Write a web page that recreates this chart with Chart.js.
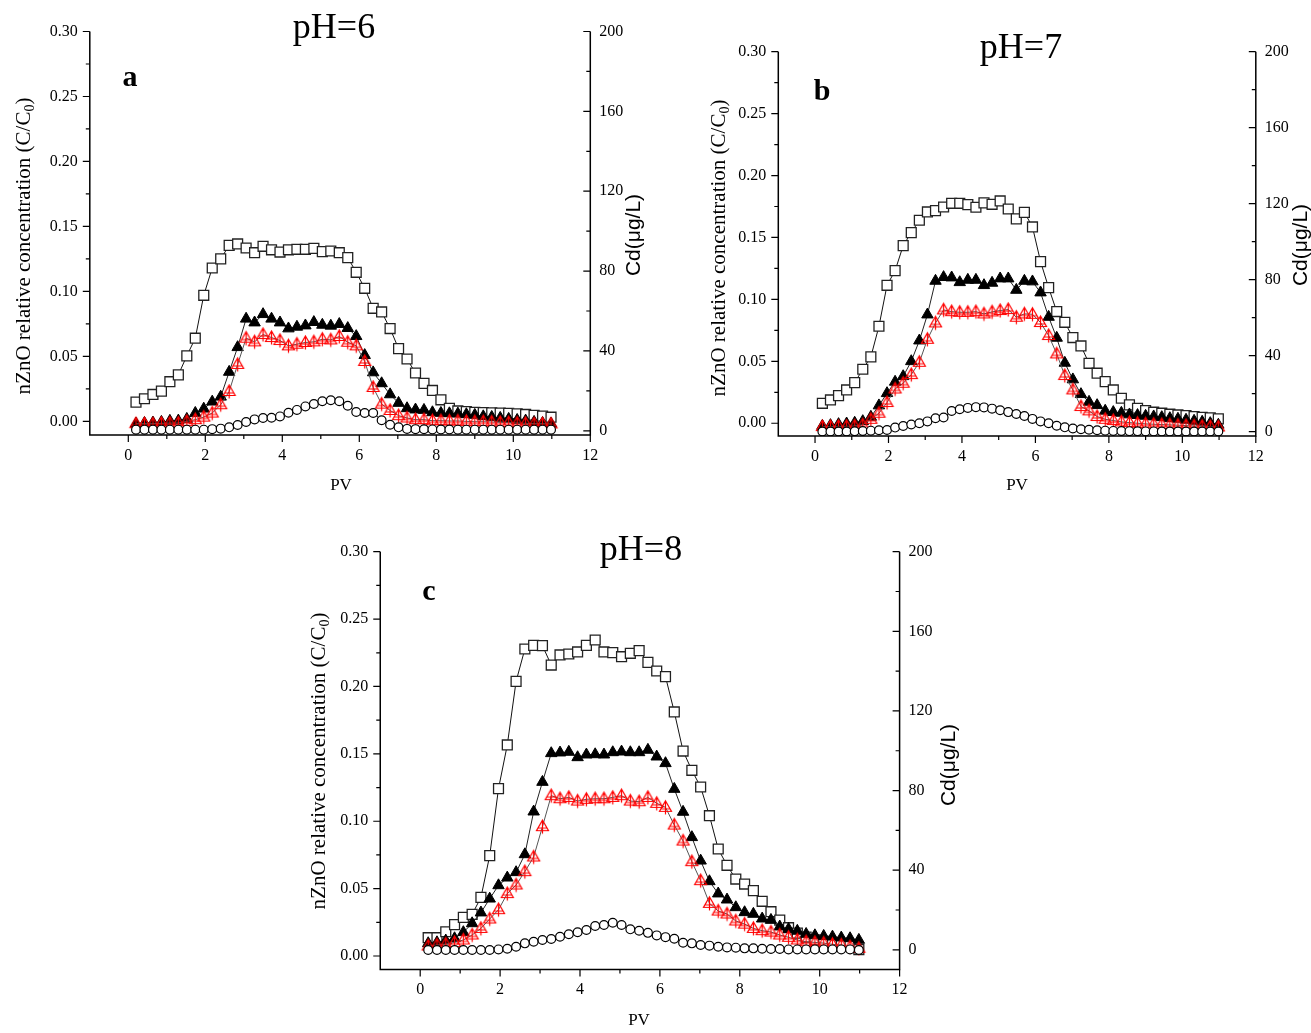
<!DOCTYPE html>
<html>
<head>
<meta charset="utf-8">
<script src="https://cdn.jsdelivr.net/npm/chart.js@4.4.0/dist/chart.umd.min.js"></script>
<style>
  body { margin: 0; background: #fff; }
  #page { position: relative; width: 1311px; height: 1033px; overflow: hidden; background: #fff; }
  canvas { position: absolute; }
</style>
</head>
<body>
<div id="page">
  <canvas id="chartA" width="660" height="500" style="left:0px;top:0px"></canvas>
  <canvas id="chartB" width="651" height="500" style="left:660px;top:0px"></canvas>
  <canvas id="chartC" width="700" height="513" style="left:300px;top:520px"></canvas>
</div>
<script>
// PV values of the samples (same for all three columns)
var pv = [0.20,0.42,0.64,0.86,1.08,1.30,1.52,1.74,1.96,2.18,2.40,2.62,2.84,3.06,3.28,3.50,3.72,3.94,4.16,4.38,
  4.60,4.82,5.04,5.26,5.48,5.70,5.92,6.14,6.36,6.58,6.80,7.02,7.24,7.46,7.68,7.90,8.12,8.34,8.56,8.78,
  9.00,9.22,9.44,9.66,9.88,10.10,10.32,10.54,10.76,10.98]

// tick labels
var leftTicks = [0, 0.05, 0.10, 0.15, 0.20, 0.25, 0.30]
var rightTicks = [0, 40, 80, 120, 160, 200]
var pvTicks = [0, 2, 4, 6, 8, 10, 12]

// pH=6
var squaresA = [0.0148,0.0174,0.0207,0.0233,0.0305,0.0358,0.0504,0.0640,0.0970,0.1180,
  0.1250,0.1354,0.1365,0.1334,0.1298,0.1347,0.1320,0.1303,0.1320,0.1324,
  0.1324,0.1331,0.1306,0.1311,0.1298,0.1260,0.1147,0.1024,0.0870,0.0842,
  0.0714,0.0560,0.0480,0.0372,0.0292,0.0238,0.0166,0.0100,0.0080,0.0075,
  0.0070,0.0068,0.0065,0.0063,0.0062,0.0058,0.0053,0.0047,0.0040,0.0032]
var filledA = [-0.0018,-0.0013,-0.0010,-0.0005,0.0003,0.0005,0.0018,0.0064,0.0097,0.0151,
  0.0189,0.0380,0.0570,0.0789,0.0760,0.0824,0.0789,0.0760,0.0714,0.0727,
  0.0737,0.0763,0.0742,0.0735,0.0748,0.0717,0.0655,0.0509,0.0376,0.0292,
  0.0207,0.0141,0.0100,0.0090,0.0087,0.0069,0.0064,0.0061,0.0059,0.0054,
  0.0049,0.0038,0.0033,0.0026,0.0018,0.0010,0.0005,-0.0005,-0.0013,-0.0018]
var redA = [-0.0018,-0.0018,-0.0018,-0.0015,-0.0013,-0.0013,0.0000,0.0013,0.0033,0.0064,
  0.0128,0.0230,0.0438,0.0640,0.0612,0.0668,0.0645,0.0622,0.0581,0.0594,
  0.0607,0.0612,0.0632,0.0627,0.0653,0.0609,0.0581,0.0461,0.0261,0.0133,
  0.0084,0.0044,0.0026,0.0013,0.0013,0.0005,0.0005,0.0003,0.0003,0.0000,
  -0.0003,-0.0003,-0.0005,-0.0008,-0.0010,-0.0013,-0.0015,-0.0018,-0.0018,-0.0020]
var circlesA = [-0.0064,-0.0064,-0.0064,-0.0064,-0.0064,-0.0064,-0.0064,-0.0064,-0.0064,-0.0060,
  -0.0056,-0.0046,-0.0028,-0.0005,0.0015,0.0026,0.0028,0.0038,0.0066,0.0088,
  0.0115,0.0134,0.0155,0.0162,0.0155,0.0120,0.0072,0.0064,0.0064,0.0008,
  -0.0026,-0.0046,-0.0058,-0.0060,-0.0061,-0.0062,-0.0063,-0.0063,-0.0064,-0.0064,
  -0.0064,-0.0064,-0.0064,-0.0064,-0.0064,-0.0064,-0.0064,-0.0064,-0.0064,-0.0064]

// pH=7
var squaresB = [0.0161,0.0188,0.0223,0.0269,0.0328,0.0436,0.0536,0.0783,0.1114,0.1232,
  0.1434,0.1539,0.1639,0.1706,0.1717,0.1746,0.1776,0.1776,0.1765,0.1744,
  0.1779,0.1768,0.1795,0.1730,0.1650,0.1703,0.1585,0.1305,0.1095,0.0902,
  0.0815,0.0692,0.0624,0.0484,0.0404,0.0336,0.0269,0.0202,0.0148,0.0121,
  0.0102,0.0089,0.0081,0.0073,0.0067,0.0062,0.0054,0.0048,0.0043,0.0035]
var filledB = [-0.0022,-0.0016,-0.0008,-0.0003,0.0003,0.0016,0.0051,0.0143,0.0242,0.0334,
  0.0379,0.0500,0.0667,0.0877,0.1149,0.1179,0.1176,0.1138,0.1157,0.1157,
  0.1114,0.1133,0.1168,0.1168,0.1076,0.1149,0.1144,0.1055,0.0858,0.0689,
  0.0487,0.0353,0.0234,0.0172,0.0145,0.0100,0.0089,0.0083,0.0070,0.0065,
  0.0059,0.0054,0.0048,0.0040,0.0035,0.0027,0.0019,0.0011,0.0000,-0.0013]
var redB = [-0.0027,-0.0027,-0.0025,-0.0025,-0.0022,-0.0013,0.0032,0.0081,0.0167,0.0277,
  0.0323,0.0393,0.0492,0.0678,0.0810,0.0915,0.0901,0.0896,0.0896,0.0901,
  0.0883,0.0899,0.0910,0.0918,0.0856,0.0883,0.0880,0.0813,0.0708,0.0560,
  0.0385,0.0269,0.0135,0.0100,0.0054,0.0032,0.0022,0.0011,0.0005,0.0000,
  -0.0005,-0.0008,-0.0011,-0.0013,-0.0016,-0.0019,-0.0022,-0.0024,-0.0027,-0.0030]
var circlesB = [-0.0067,-0.0067,-0.0067,-0.0067,-0.0065,-0.0063,-0.0060,-0.0057,-0.0054,-0.0035,
  -0.0022,-0.0010,0.0000,0.0015,0.0040,0.0046,0.0099,0.0113,0.0124,0.0130,
  0.0128,0.0118,0.0105,0.0090,0.0075,0.0058,0.0035,0.0015,0.0000,-0.0020,
  -0.0033,-0.0043,-0.0048,-0.0053,-0.0057,-0.0060,-0.0062,-0.0063,-0.0064,-0.0065,
  -0.0066,-0.0066,-0.0067,-0.0067,-0.0067,-0.0067,-0.0067,-0.0067,-0.0067,-0.0067]

// pH=8
var squaresC = [0.0136,0.0136,0.0180,0.0233,0.0287,0.0309,0.0435,0.0745,0.1242,0.1566,
  0.2038,0.2278,0.2305,0.2303,0.2159,0.2234,0.2241,0.2256,0.2305,0.2345,
  0.2256,0.2251,0.2221,0.2246,0.2266,0.2179,0.2115,0.2073,0.1811,0.1521,
  0.1378,0.1254,0.1041,0.0794,0.0673,0.0571,0.0534,0.0485,0.0406,0.0329,
  0.0267,0.0210,0.0170,0.0140,0.0120,0.0108,0.0098,0.0090,0.0080,0.0048]
var filledC = [0.0094,0.0101,0.0114,0.0131,0.0176,0.0242,0.0322,0.0425,0.0524,0.0581,
  0.0621,0.0754,0.1071,0.1291,0.1504,0.1509,0.1514,0.1474,0.1494,0.1496,
  0.1494,0.1511,0.1516,0.1511,0.1511,0.1529,0.1479,0.1430,0.1239,0.1069,
  0.0881,0.0707,0.0554,0.0463,0.0418,0.0361,0.0324,0.0312,0.0277,0.0267,
  0.0218,0.0200,0.0186,0.0163,0.0153,0.0148,0.0143,0.0136,0.0131,0.0119]
var redC = [0.0074,0.0082,0.0089,0.0101,0.0119,0.0156,0.0205,0.0275,0.0344,0.0463,
  0.0527,0.0626,0.0735,0.0960,0.1190,0.1167,0.1177,0.1150,0.1163,0.1167,
  0.1167,0.1177,0.1190,0.1150,0.1145,0.1177,0.1133,0.1103,0.0972,0.0853,
  0.0700,0.0559,0.0391,0.0334,0.0312,0.0260,0.0237,0.0205,0.0188,0.0178,
  0.0156,0.0139,0.0119,0.0106,0.0101,0.0096,0.0087,0.0082,0.0069,0.0057]
var circlesC = [0.0045,0.0045,0.0045,0.0045,0.0045,0.0045,0.0045,0.0045,0.0049,0.0054,
  0.0069,0.0094,0.0106,0.0119,0.0126,0.0143,0.0161,0.0176,0.0193,0.0223,
  0.0230,0.0247,0.0230,0.0198,0.0188,0.0172,0.0153,0.0140,0.0128,0.0099,
  0.0094,0.0082,0.0077,0.0069,0.0064,0.0062,0.0057,0.0057,0.0054,0.0052,
  0.0052,0.0049,0.0049,0.0049,0.0049,0.0049,0.0049,0.0049,0.0049,0.0045]

var serif = '"Liberation Serif", "Times New Roman", serif'
Chart.defaults.font.family = serif

//Red open triangle with a cross inside
function redMarker() {
  var c = document.createElement('canvas')
  c.width = 17
  c.height = 17
  var g = c.getContext('2d')
  g.strokeStyle = '#ff0000'
  g.lineWidth = 1.2
  g.beginPath()
  g.moveTo(8.5, 2)
  g.lineTo(14.5, 12.5)
  g.lineTo(2.5, 12.5)
  g.closePath()
  g.moveTo(8.5, 2)
  g.lineTo(8.5, 15.5)
  g.moveTo(3.5, 10)
  g.lineTo(13.5, 10)
  g.stroke()
  return c
}
var redPoint = redMarker()

function toPoints(arr) {
  return pv.map(function(x, i) { return {x: x, y: arr[i]} })
}

//Axes, tick marks and the texts around each panel
function framePlugin(cfg) {
  return {
    id: 'frame',
    afterDraw: function(chart) {
      var c = chart.ctx
      var a = chart.chartArea
      var sx = chart.scales.x, sy = chart.scales.y, sr = chart.scales.y1
      c.save()
      c.strokeStyle = '#000'
      c.lineWidth = 1.5
      c.beginPath()
      c.moveTo(a.left, a.top)
      c.lineTo(a.left, a.bottom)
      c.lineTo(a.right, a.bottom)
      c.lineTo(a.right, a.top)
      c.stroke()

      c.lineWidth = 1.2
      c.beginPath()
      leftTicks.forEach(function(v, i) {
        var y = sy.getPixelForValue(v)
        c.moveTo(a.left - 7, y)
        c.lineTo(a.left, y)
        if (i > 0) {
          var ym = sy.getPixelForValue((v + leftTicks[i - 1]) / 2)
          c.moveTo(a.left - 4, ym)
          c.lineTo(a.left, ym)
        }
      })
      rightTicks.forEach(function(v, i) {
        var y = sr.getPixelForValue(v)
        c.moveTo(a.right - 7, y)
        c.lineTo(a.right, y)
        if (i > 0) {
          var ym = sr.getPixelForValue((v + rightTicks[i - 1]) / 2)
          c.moveTo(a.right - 4, ym)
          c.lineTo(a.right, ym)
        }
      })
      pvTicks.forEach(function(v, i) {
        var x = sx.getPixelForValue(v)
        c.moveTo(x, a.bottom)
        c.lineTo(x, a.bottom + 7)
        if (i > 0) {
          var xm = sx.getPixelForValue((v + pvTicks[i - 1]) / 2)
          c.moveTo(xm, a.bottom)
          c.lineTo(xm, a.bottom + 4)
        }
      })
      c.stroke()

      c.fillStyle = '#000'
      c.textAlign = 'center'
      c.textBaseline = 'middle'
      c.font = '36px ' + serif
      c.fillText(cfg.title, cfg.titlePos[0], cfg.titlePos[1])
      c.font = 'bold 30px ' + serif
      c.fillText(cfg.letter, cfg.letterPos[0], cfg.letterPos[1])
      c.font = '17px ' + serif
      c.fillText('PV', cfg.pvPos[0], cfg.pvPos[1])

      //right axis title, reads bottom to top
      c.save()
      c.translate(cfg.rightPos[0], cfg.rightPos[1])
      c.rotate(-Math.PI / 2)
      c.font = '21px "Liberation Sans", Arial, sans-serif'
      c.fillText('Cd(\u03bcg/L)', 0, 0)
      c.restore()

      //left axis title with subscript 0
      c.save()
      c.translate(cfg.leftPos[0], cfg.leftPos[1])
      c.rotate(-Math.PI / 2)
      c.textAlign = 'left'
      c.textBaseline = 'alphabetic'
      var t1 = 'nZnO relative concentration (C/C', t2 = '0', t3 = ')'
      var f1 = '21px ' + serif, f2 = '14px ' + serif
      c.font = f1
      var w1 = c.measureText(t1).width, w3 = c.measureText(t3).width
      c.font = f2
      var w2 = c.measureText(t2).width
      var x0 = -(w1 + w2 + w3) / 2
      c.font = f1
      c.fillText(t1, x0, 7)
      c.font = f2
      c.fillText(t2, x0 + w1, 11)
      c.font = f1
      c.fillText(t3, x0 + w1 + w2, 7)
      c.restore()

      c.restore()
    }
  }
}

function makeChart(id, cfg, squares, filled, red, circles) {
  var canvas = document.getElementById(id)
  var ctx = canvas.getContext('2d')
  var W = canvas.width, H = canvas.height
  var tickFont = { family: serif, size: 16 }

  var data = {
    datasets: [
      {
        data: toPoints(circles), order: 1,
        borderColor: '#000', borderWidth: 1,
        pointStyle: 'circle', pointRadius: 4.4, pointBorderWidth: 1.2,
        pointBackgroundColor: '#fff', pointBorderColor: '#000'
      },
      {
        data: toPoints(red), order: 2,
        borderColor: '#555', borderWidth: 1,
        pointStyle: redPoint, pointRadius: 7
      },
      {
        data: toPoints(filled), order: 3,
        borderColor: '#222', borderWidth: 1,
        pointStyle: 'triangle', pointRadius: 6.6, pointBorderWidth: 1,
        pointBackgroundColor: '#000', pointBorderColor: '#000'
      },
      {
        data: toPoints(squares), order: 4,
        borderColor: '#111', borderWidth: 1,
        pointStyle: 'rect', pointRadius: 7, pointBorderWidth: 1.3,
        pointBackgroundColor: '#fff', pointBorderColor: '#222'
      }
    ]
  }

  var config = {
    type: 'line',
    data: data,
    options: {
      responsive: false,
      animation: false,
      events: [],
      layout: { padding: { top: cfg.area.top, left: 0, right: 0, bottom: 0 } },
      elements: { line: { tension: 0 } },
      plugins: { legend: { display: false }, tooltip: { enabled: false } },
      scales: {
        x: {
          type: 'linear', min: -1, max: 12,
          grid: { display: false, drawTicks: false },
          border: { display: false },
          ticks: { font: tickFont, color: '#000', padding: 11, maxRotation: 0,
            callback: function(v) { return String(v) } },
          afterBuildTicks: function(s) { s.ticks = pvTicks.map(function(v) { return {value: v} }) },
          afterFit: function(s) { s.height = H - cfg.area.bottom }
        },
        y: {
          position: 'left', min: cfg.yMin, max: 0.30,
          grid: { display: false, drawTicks: false },
          border: { display: false },
          ticks: { font: tickFont, color: '#000', padding: 12,
            callback: function(v) { return v.toFixed(2) } },
          afterBuildTicks: function(s) { s.ticks = leftTicks.map(function(v) { return {value: v} }) },
          afterFit: function(s) { s.width = cfg.area.left }
        },
        y1: {
          position: 'right', min: cfg.y1Min, max: 200,
          grid: { display: false, drawTicks: false },
          border: { display: false },
          ticks: { font: tickFont, color: '#000', padding: 9,
            callback: function(v) { return String(v) } },
          afterBuildTicks: function(s) { s.ticks = rightTicks.map(function(v) { return {value: v} }) },
          afterFit: function(s) { s.width = W - cfg.area.right }
        }
      }
    },
    plugins: [framePlugin(cfg)]
  }
  return new Chart(ctx, config)
}

makeChart('chartA', {
  area: { left: 89.8, top: 31.5, right: 590.3, bottom: 435 },
  yMin: -0.0105, y1Min: -2.1,
  title: 'pH=6', titlePos: [334, 29],
  letter: 'a', letterPos: [130, 78],
  leftPos: [23, 246], rightPos: [634, 235], pvPos: [341, 486]
}, squaresA, filledA, redA, circlesA)

makeChart('chartB', {
  area: { left: 118.3, top: 51.7, right: 595.8, bottom: 436 },
  yMin: -0.0103, y1Min: -2.26,
  title: 'pH=7', titlePos: [361, 49],
  letter: 'b', letterPos: [162, 92],
  leftPos: [58, 248], rightPos: [641, 245], pvPos: [357, 486]
}, squaresB, filledB, redB, circlesB)

makeChart('chartC', {
  area: { left: 80.25, top: 31.7, right: 599.6, bottom: 449.5 },
  yMin: -0.0100, y1Min: -9.9,
  title: 'pH=8', titlePos: [341, 31],
  letter: 'c', letterPos: [129, 72],
  leftPos: [18, 241], rightPos: [649, 245], pvPos: [339, 501]
}, squaresC, filledC, redC, circlesC)
</script>
</body>
</html>
